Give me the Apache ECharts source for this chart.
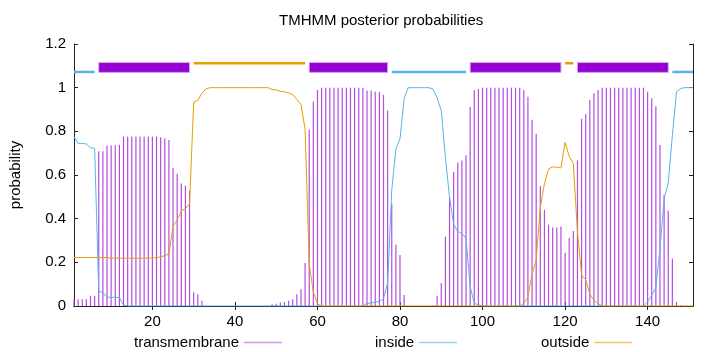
<!DOCTYPE html>
<html>
<head>
<meta charset="utf-8">
<script src="https://cdn.jsdelivr.net/npm/echarts@6/dist/echarts.min.js"></script>
<style>
  html, body { margin: 0; padding: 0; background: #fff; }
  #chart { width: 720px; height: 352px; }
</style>
</head>
<body>
<div id="chart"></div>
<script>
// residue positions 1..151
const positions = Array.from({ length: 151 }, (_, i) => i + 1);

// posterior probabilities per residue
const transmembrane = [
  0.03, 0.031, 0.031, 0.031, 0.047, 0.047, 0.709, 0.709, 0.735, 0.736,
  0.736, 0.739, 0.776, 0.776, 0.776, 0.776, 0.776, 0.776, 0.776, 0.776,
  0.776, 0.773, 0.768, 0.760, 0.633, 0.606, 0.561, 0.551, 0.528, 0.063,
  0.054, 0.024, 0, 0, 0, 0, 0, 0, 0, 0,
  0, 0, 0, 0, 0, 0, 0, 0, 0.008, 0.010,
  0.016, 0.019, 0.024, 0.031, 0.054, 0.077, 0.197, 0.808, 0.937, 0.989,
  1, 1, 1, 1, 1, 1, 1, 1, 1, 1,
  1, 0.987, 0.987, 0.981, 0.980, 0.967, 0.895, 0.469, 0.281, 0.234,
  0.050, 0, 0, 0, 0, 0, 0, 0.004, 0.047, 0.105,
  0.318, 0.502, 0.614, 0.657, 0.666, 0.690, 0.912, 0.988, 0.994, 1,
  1, 1, 1, 1, 1, 1, 1, 1, 1, 0.988,
  0.958, 0.853, 0.789, 0.548, 0.440, 0.372, 0.359, 0.359, 0.364, 0.244,
  0.312, 0.344, 0.667, 0.857, 0.879, 0.944, 0.974, 0.989, 1, 1,
  1, 1, 1, 1, 1, 1, 1, 1, 1, 0.981,
  0.951, 0.915, 0.737, 0.509, 0.436, 0.218, 0.019, 0.004, 0, 0,
  0
];
const inside = [
  0.775, 0.745, 0.745, 0.742, 0.725, 0.722, 0.066, 0.063, 0.040, 0.040,
  0.040, 0.038, 0.005, 0, 0, 0, 0, 0, 0, 0,
  0, 0, 0, 0, 0, 0, 0, 0, 0, 0,
  0, 0, 0, 0, 0, 0, 0, 0, 0, 0,
  0, 0, 0, 0, 0, 0, 0, 0, 0, 0,
  0, 0, 0, 0, 0, 0, 0, 0, 0, 0,
  0, 0, 0, 0, 0, 0, 0, 0, 0, 0,
  0, 0.013, 0.013, 0.019, 0.020, 0.033, 0.105, 0.531, 0.719, 0.766,
  0.950, 1, 1, 1, 1, 1, 1, 0.993, 0.953, 0.895,
  0.682, 0.498, 0.375, 0.341, 0.333, 0.310, 0.088, 0.012, 0.006, 0,
  0, 0, 0, 0, 0, 0, 0, 0, 0, 0,
  0, 0, 0, 0, 0, 0, 0, 0, 0, 0,
  0, 0, 0, 0, 0, 0, 0, 0, 0, 0,
  0, 0, 0, 0, 0, 0, 0, 0, 0, 0.019,
  0.049, 0.085, 0.263, 0.491, 0.564, 0.782, 0.981, 0.996, 1, 1,
  1
];
const outside = [
  0.222, 0.222, 0.222, 0.222, 0.222, 0.222, 0.222, 0.222, 0.222, 0.219,
  0.219, 0.219, 0.219, 0.219, 0.219, 0.219, 0.219, 0.219, 0.219, 0.220,
  0.222, 0.225, 0.231, 0.238, 0.364, 0.394, 0.436, 0.446, 0.467, 0.934,
  0.942, 0.975, 0.995, 1, 1, 1, 1, 1, 1, 1,
  1, 1, 1, 1, 1, 1, 1, 1, 0.992, 0.990,
  0.984, 0.981, 0.976, 0.969, 0.946, 0.923, 0.810, 0.192, 0.063, 0.011,
  0, 0, 0, 0, 0, 0, 0, 0, 0, 0,
  0, 0, 0, 0, 0, 0, 0, 0, 0, 0,
  0, 0, 0, 0, 0, 0, 0, 0, 0, 0,
  0, 0, 0, 0, 0, 0, 0, 0, 0, 0,
  0, 0, 0, 0, 0, 0, 0, 0, 0, 0.012,
  0.042, 0.147, 0.211, 0.452, 0.560, 0.628, 0.637, 0.636, 0.632, 0.750,
  0.686, 0.652, 0.340, 0.142, 0.120, 0.055, 0.026, 0.011, 0, 0,
  0, 0, 0, 0, 0, 0, 0, 0, 0, 0,
  0, 0, 0, 0, 0, 0, 0, 0, 0, 0,
  0
];

// predicted topology [start, end]
const insideSegs = [[1, 6], [78, 96], [146, 151]];
const tmSegs = [[7, 29], [58, 77], [97, 119], [123, 145]];
const outsideSegs = [[30, 57], [120, 122]];

const xTicks = [20, 40, 60, 80, 100, 120, 140];

const font = 'Liberation Sans, Arial, sans-serif';
const axisColor = '#222';

const pairs = (vals) => positions.map((p, i) => [p, vals[i]]);

const segLine = (y, color, width) => (params, api) => {
  const a = api.coord([api.value(0), y]);
  const b = api.coord([api.value(1), y]);
  return {
    type: 'line',
    shape: { x1: a[0], y1: a[1], x2: b[0], y2: b[1] },
    style: { stroke: color, lineWidth: width }
  };
};

const segBox = (lo, hi) => (params, api) => {
  const a = api.coord([api.value(0), hi]);
  const b = api.coord([api.value(1), lo]);
  return {
    type: 'rect',
    shape: { x: a[0], y: a[1], width: b[0] - a[0], height: b[1] - a[1] },
    style: { fill: '#9400d3', stroke: '#d7a3ee', lineWidth: 1 }
  };
};

const chart = echarts.init(document.getElementById('chart'));

const legendBase = {
  top: 335,
  padding: 0,
  align: 'right',
  icon: 'rect',
  itemWidth: 38,
  itemHeight: 1.5,
  selectedMode: false,
  itemStyle: { opacity: 0.6 },
  textStyle: { color: '#000', fontSize: 15, fontFamily: font }
};

chart.setOption({
  animation: false,
  title: {
    text: 'TMHMM posterior probabilities',
    left: 279,
    top: 13,
    padding: 0,
    textStyle: { color: '#000', fontSize: 15, fontWeight: 'normal', fontFamily: font }
  },
  legend: [
    Object.assign({ left: 134, data: ['transmembrane'] }, legendBase),
    Object.assign({ left: 375, data: ['inside'] }, legendBase),
    Object.assign({ left: 541, data: ['outside'] }, legendBase)
  ],
  grid: { left: 73, right: 27, top: 44, bottom: 46 },
  xAxis: [{
    type: 'value',
    min: 1,
    max: 151,
    position: 'bottom',
    splitLine: { show: false },
    axisLine: { lineStyle: { color: axisColor } },
    axisTick: { inside: true, length: 4, customValues: xTicks, lineStyle: { color: axisColor } },
    axisLabel: { customValues: xTicks, color: '#000', fontSize: 15, fontFamily: font, margin: 8 }
  }, {
    type: 'value',
    min: 1,
    max: 151,
    position: 'top',
    splitLine: { show: false },
    axisLine: { lineStyle: { color: axisColor } },
    axisTick: { inside: true, length: 4, customValues: xTicks, lineStyle: { color: axisColor } },
    axisLabel: { show: false }
  }],
  yAxis: [{
    type: 'value',
    min: 0,
    max: 1.2,
    interval: 0.2,
    position: 'left',
    name: 'probability',
    nameLocation: 'middle',
    nameGap: 51,
    nameTextStyle: { color: '#000', fontSize: 15, fontFamily: font },
    splitLine: { show: false },
    axisLine: { show: true, lineStyle: { color: axisColor } },
    axisTick: { show: true, inside: true, length: 4, lineStyle: { color: axisColor } },
    axisLabel: {
      color: '#000', fontSize: 15, fontFamily: font, margin: 8,
      formatter: (v) => String(+v.toFixed(1))
    }
  }, {
    type: 'value',
    min: 0,
    max: 1.2,
    interval: 0.2,
    position: 'right',
    splitLine: { show: false },
    axisLine: { show: true, lineStyle: { color: axisColor } },
    axisTick: { show: true, inside: true, length: 4, lineStyle: { color: axisColor } },
    axisLabel: { show: false }
  }],
  series: [{
    name: 'transmembrane',
    type: 'bar',
    barWidth: 1.2,
    itemStyle: { color: '#b24fe0' },
    data: pairs(transmembrane),
    z: 2
  }, {
    name: 'inside',
    type: 'line',
    showSymbol: false,
    lineStyle: { width: 1, color: '#56b4e9' },
    itemStyle: { color: '#56b4e9' },
    data: pairs(inside),
    z: 3
  }, {
    name: 'outside',
    type: 'line',
    showSymbol: false,
    lineStyle: { width: 1, color: '#e69f00' },
    itemStyle: { color: '#e69f00' },
    data: pairs(outside),
    z: 3
  }, {
    name: 'inside-topology',
    type: 'custom',
    renderItem: segLine(1.072, '#56b4e9', 2.5),
    encode: { x: [0, 1] },
    data: insideSegs,
    z: 4
  }, {
    name: 'outside-topology',
    type: 'custom',
    renderItem: segLine(1.112, '#e69f00', 2.5),
    encode: { x: [0, 1] },
    data: outsideSegs,
    z: 4
  }, {
    name: 'tm-topology',
    type: 'custom',
    renderItem: segBox(1.07, 1.115),
    encode: { x: [0, 1] },
    data: tmSegs,
    z: 4
  }]
});
</script>
</body>
</html>
